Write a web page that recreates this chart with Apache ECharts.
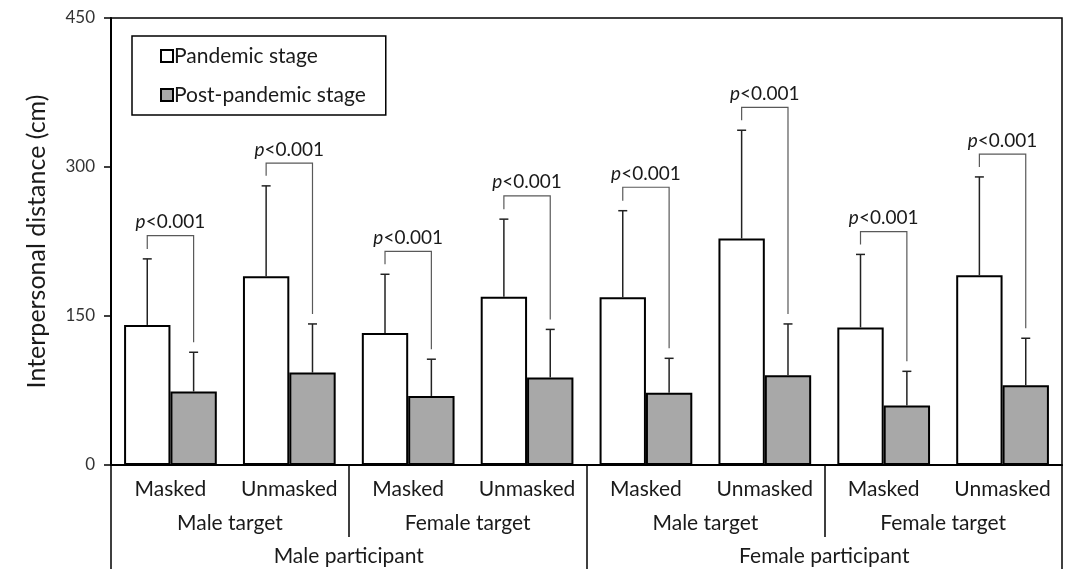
<!DOCTYPE html>
<html>
<head>
<meta charset="utf-8">
<script src="https://cdn.jsdelivr.net/npm/echarts@6/dist/echarts.min.js"></script>
<style>
html,body{margin:0;padding:0;background:#fff;}
#chart{width:1072px;height:569px;}
</style>
</head>
<body>
<div id="chart"></div>
<script>
// ---- data ----
var conditions = ['Masked','Unmasked','Masked','Unmasked','Masked','Unmasked','Masked','Unmasked'];
var targets = ['Male target','Female target','Male target','Female target'];
var participants = ['Male participant','Female participant'];
var seriesNames = ['Pandemic stage','Post-pandemic stage'];
var pandemicMean = [141, 190, 133, 169.5, 169, 228, 138.5, 191];
var pandemicUpper = [207.5, 281, 192, 247.5, 256, 337, 212, 290];
var postMean = [74, 93, 69.5, 88, 72.8, 90.3, 60, 80.3];
var postUpper = [113.5, 142, 106.5, 136.5, 107.4, 142, 94.3, 127.6];
var bracketLevel = [231, 304, 215, 271, 279.6, 360, 235, 313];
var pLabels = ['<0.001','<0.001','<0.001','<0.001','<0.001','<0.001','<0.001','<0.001'];
var yTicks = [0, 150, 300, 450];

var FONT = 'Lato, "Open Sans", sans-serif';
var CAT_GAP = 0.22;
function barOffset(api, which) {
  var band = api.size([1, 0])[0];
  var w = band * (1 - CAT_GAP) / 2;
  return which === 0 ? -w / 2 : w / 2;
}

var errData = [];
for (var i = 0; i < conditions.length; i++) {
  errData.push([i, pandemicMean[i], pandemicUpper[i], 0]);
  errData.push([i, postMean[i], postUpper[i], 1]);
}
var brData = [];
for (var j = 0; j < conditions.length; j++) {
  brData.push([j, bracketLevel[j], pandemicUpper[j], postUpper[j], pLabels[j]]);
}

var chart = echarts.init(document.getElementById('chart'), null, {renderer: 'canvas'});
var option = {
  animation: false,
  backgroundColor: '#fff',
  grid: {left: 111, right: 10, top: 18, bottom: 104, show: true, borderColor: '#000', borderWidth: 1.5, backgroundColor: 'transparent'},
  legend: {
    data: seriesNames,
    orient: 'vertical',
    left: 132, top: 36,
    padding: [9, 20, 9, 28],
    itemGap: 17,
    itemWidth: 12, itemHeight: 12,
    icon: 'rect',
    borderColor: '#000', borderWidth: 1.5,
    backgroundColor: '#fff',
    textStyle: {fontFamily: FONT, fontSize: 21, color: '#1a1a1a', lineHeight: 22, padding: [0, 0, 0, -4]}
  },
  xAxis: [
    {type: 'category', data: conditions, position: 'bottom', gridIndex: 0,
     axisLine: {show: true, lineStyle: {color: '#000', width: 2}},
     axisTick: {show: false},
     axisLabel: {interval: 0, hideOverlap: false, fontFamily: FONT, fontSize: 21, color: '#1a1a1a', margin: 13, lineHeight: 22}},
    {type: 'category', data: targets, position: 'bottom', gridIndex: 0,
     axisLine: {show: false},
     axisTick: {show: true, interval: 0, length: 72, lineStyle: {color: '#000', width: 1.5}},
     axisLabel: {interval: 0, fontFamily: FONT, fontSize: 21, color: '#1a1a1a', margin: 47, lineHeight: 22}},
    {type: 'category', data: participants, position: 'bottom', gridIndex: 0,
     axisLine: {show: false},
     axisTick: {show: true, interval: 0, length: 105, lineStyle: {color: '#000', width: 1.5}},
     axisLabel: {interval: 0, fontFamily: FONT, fontSize: 21, color: '#1a1a1a', margin: 80, lineHeight: 22}}
  ],
  yAxis: {
    type: 'value', min: yTicks[0], max: yTicks[yTicks.length - 1], interval: 150,
    name: 'Interpersonal distance (cm)', nameLocation: 'middle', nameGap: 62,
    nameTextStyle: {fontFamily: FONT, fontSize: 25, color: '#1a1a1a'},
    axisLine: {show: true, lineStyle: {color: '#000', width: 2}},
    axisTick: {show: true, length: 7, lineStyle: {color: '#000', width: 1.5}},
    splitLine: {show: false},
    axisLabel: {fontFamily: FONT, fontSize: 17, color: '#333', margin: 16}
  },
  series: [
    {name: seriesNames[0], type: 'bar', data: pandemicMean, barGap: '0%', barCategoryGap: (CAT_GAP * 100) + '%',
     itemStyle: {color: '#ffffff', borderColor: '#000', borderWidth: 2}, z: 2},
    {name: seriesNames[1], type: 'bar', data: postMean, barGap: '0%', barCategoryGap: (CAT_GAP * 100) + '%',
     itemStyle: {color: '#a8a8a8', borderColor: '#000', borderWidth: 2}, z: 2},
    {type: 'custom', name: 'err', data: errData, z: 3, silent: true,
     renderItem: function (params, api) {
       var c = api.value(0), which = api.value(3);
       var p0 = api.coord([c, api.value(1)]);
       var p1 = api.coord([c, api.value(2)]);
       var x = p0[0] + barOffset(api, which);
       var cap = 4.5;
       var st = {stroke: '#222', lineWidth: 1.5};
       return {type: 'group', children: [
         {type: 'line', shape: {x1: x, y1: p0[1], x2: x, y2: p1[1]}, style: st},
         {type: 'line', shape: {x1: x - cap, y1: p1[1], x2: x + cap, y2: p1[1]}, style: st}
       ]};
     }},
    {type: 'custom', name: 'brackets', data: brData, z: 3, silent: true,
     renderItem: function (params, api) {
       var c = api.value(0);
       var top = api.coord([c, api.value(1)]);
       var lEnd = api.coord([c, api.value(2)]);
       var rEnd = api.coord([c, api.value(3)]);
       var xl = top[0] + barOffset(api, 0);
       var xr = top[0] + barOffset(api, 1);
       var gap = 10;
       return {type: 'group', children: [
         {type: 'polyline', shape: {points: [[xl, lEnd[1] - gap], [xl, top[1]], [xr, top[1]], [xr, rEnd[1] - gap]]}, style: {stroke: '#595959', lineWidth: 1.2, fill: null}},
         {type: 'text', style: {
            text: '{i|p}{n|' + api.value(4) + '}',
            x: top[0], y: top[1] - 4, align: 'center', verticalAlign: 'bottom',
            rich: {
              i: {fontFamily: FONT, fontSize: 19, fontStyle: 'italic', fill: '#1a1a1a', color: '#1a1a1a'},
              n: {fontFamily: FONT, fontSize: 19, fill: '#1a1a1a', color: '#1a1a1a'}
            }
          }}
       ]};
     }}
  ]
};
chart.setOption(option);
</script>
</body>
</html>
